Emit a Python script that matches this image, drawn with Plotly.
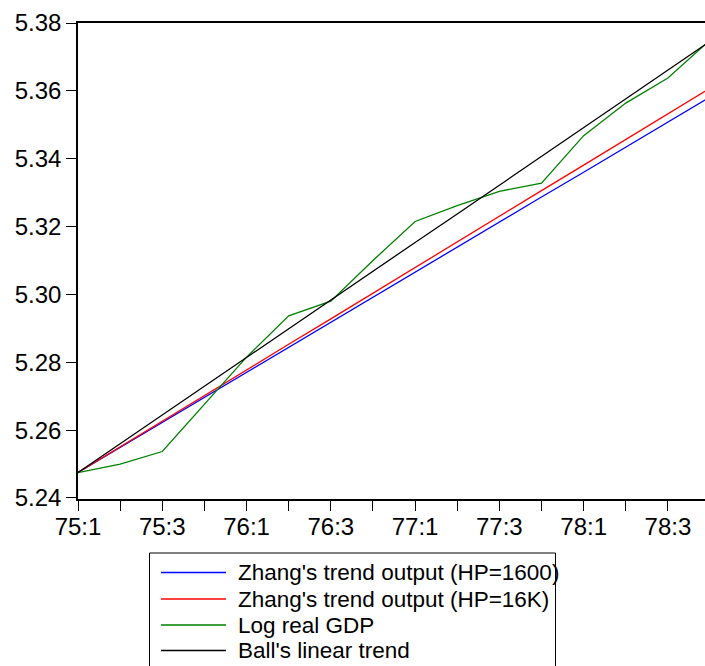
import plotly.graph_objects as go

quarters = ["75:1", "75:2", "75:3", "75:4", "76:1", "76:2", "76:3", "76:4",
            "77:1", "77:2", "77:3", "77:4", "78:1", "78:2", "78:3", "78:4"]
tick_labels = ["75:1", "", "75:3", "", "76:1", "", "76:3", "",
               "77:1", "", "77:3", "", "78:1", "", "78:3", ""]

hp1600 = [5.2475, 5.2549, 5.2623, 5.2697, 5.2770, 5.2844, 5.2918, 5.2992,
          5.3065, 5.3139, 5.3213, 5.3287, 5.3360, 5.3434, 5.3508, 5.3582]
hp16k = [5.2475, 5.2551, 5.2626, 5.2702, 5.2777, 5.2853, 5.2928, 5.3004,
         5.3079, 5.3155, 5.3230, 5.3306, 5.3381, 5.3457, 5.3532, 5.3608]
log_gdp = [5.2475, 5.2500, 5.2537, 5.2675, 5.2815, 5.2937, 5.2980, 5.3100,
           5.3215, 5.3262, 5.3304, 5.3328, 5.3468, 5.3564, 5.3638, 5.3750]
ball = [5.2475, 5.2560, 5.2645, 5.2729, 5.2814, 5.2899, 5.2983, 5.3068,
        5.3153, 5.3237, 5.3322, 5.3407, 5.3491, 5.3576, 5.3661, 5.3746]

series_names = ["Zhang's trend output (HP=1600)", "Zhang's trend output (HP=16K)",
                "Log real GDP", "Ball's linear trend"]
series_values = [hp1600, hp16k, log_gdp, ball]
series_colors = ["#0000FF", "#FF0000", "#008000", "#000000"]

x_idx = list(range(len(quarters)))

W, H = 705, 666
ML, MR, MT, MB = 78, 0, 23, 167
PW, PH = W - ML - MR, H - MT - MB


def px_x(px):
    return (px - ML) / PW


def px_y(py):
    return (H - MB - py) / PH


fig = go.Figure()
for name, vals, col in zip(series_names, series_values, series_colors):
    fig.add_trace(go.Scatter(x=x_idx, y=vals, mode="lines", name=name,
                             line=dict(color=col, width=1.3),
                             text=quarters, hoverinfo="text+y+name",
                             showlegend=False))

FONT = "Arial, Liberation Sans, sans-serif"

# Legend (box, key lines and labels), laid out like the original chart's legend
shapes = [dict(type="rect", xref="paper", yref="paper",
               x0=px_x(149.5), x1=px_x(555.5), y0=px_y(553), y1=px_y(700),
               line=dict(color="black", width=1), fillcolor="white", layer="above")]
annotations = []
row_y = [572.5, 599, 625, 650.5]
for name, col, ry in zip(series_names, series_colors, row_y):
    shapes.append(dict(type="line", xref="paper", yref="paper",
                       x0=px_x(161), x1=px_x(226), y0=px_y(ry), y1=px_y(ry),
                       line=dict(color=col, width=1.3), layer="above"))
    annotations.append(dict(xref="paper", yref="paper", x=px_x(236), y=px_y(ry),
                            xanchor="left", yanchor="middle", showarrow=False,
                            text=name, align="left",
                            font=dict(family=FONT, size=22.5, color="black")))

fig.update_layout(
    width=W, height=H,
    margin=dict(l=ML, r=MR, t=MT, b=MB, autoexpand=False),
    paper_bgcolor="white", plot_bgcolor="white",
    font=dict(family=FONT, size=24, color="black"),
    showlegend=False,
    shapes=shapes,
    annotations=annotations,
    xaxis=dict(
        range=[0, 14.88], tickmode="array", tickvals=x_idx, ticktext=tick_labels,
        ticks="outside", ticklen=10, tickwidth=1.3, tickcolor="black",
        ticklabelstandoff=-5,
        showline=True, linecolor="black", linewidth=1.5, mirror=True,
        showgrid=False, zeroline=False,
        tickfont=dict(family=FONT, size=24, color="black"),
    ),
    yaxis=dict(
        range=[5.2397, 5.38], tickmode="array",
        tickvals=[5.24, 5.26, 5.28, 5.30, 5.32, 5.34, 5.36, 5.38],
        tickformat=".2f",
        ticks="outside", ticklen=10, tickwidth=1.3, tickcolor="black",
        showline=True, linecolor="black", linewidth=1.5,
        showgrid=False, zeroline=False,
        tickfont=dict(family=FONT, size=24, color="black"),
    ),
)

fig.write_html("out.html")
